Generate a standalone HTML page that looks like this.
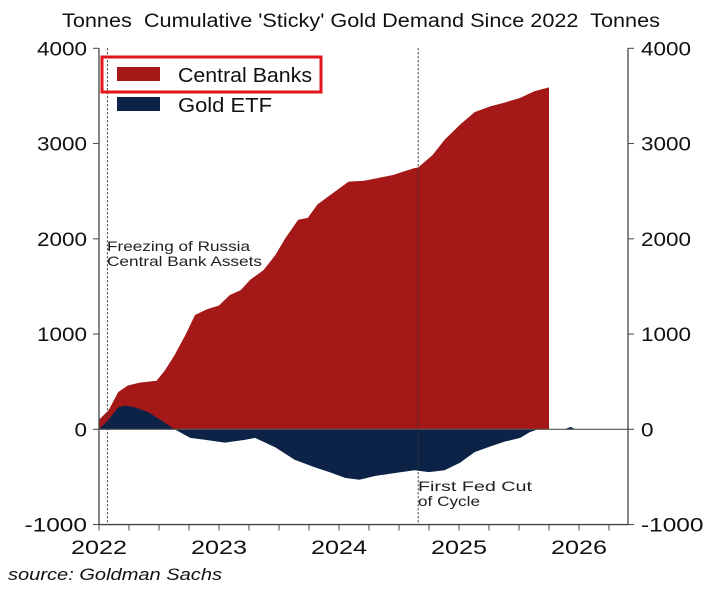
<!DOCTYPE html>
<html><head><meta charset="utf-8"><style>
body{margin:0;background:#fff;width:717px;height:590px;overflow:hidden;font-family:"Liberation Sans",Arial,sans-serif}
svg{display:block}
</style></head><body>
<svg id="chart" width="717" height="590">
<text x="62" y="27" font-size="19" fill="#111" textLength="598" lengthAdjust="spacingAndGlyphs" xml:space="preserve">Tonnes  Cumulative 'Sticky' Gold Demand Since 2022  Tonnes</text>
<g id="plot"></g>
<text x="8" y="580" font-size="17" font-style="italic" fill="#111" textLength="214" lengthAdjust="spacingAndGlyphs">source: Goldman Sachs</text>
</svg>
<script>
const cbDates=[2022.0,2022.08,2022.16,2022.24,2022.34,2022.48,2022.55,2022.63,2022.72,2022.8,2022.9,2023.0,2023.09,2023.18,2023.26,2023.37,2023.47,2023.55,2023.66,2023.74,2023.82,2023.96,2024.08,2024.21,2024.33,2024.45,2024.62,2024.66,2024.78,2024.88,2025.01,2025.13,2025.26,2025.38,2025.51,2025.63,2025.75];
const cbValues=[100,200,390,460,490,510,620,780,990,1200,1260,1300,1410,1460,1570,1670,1830,2000,2200,2220,2360,2490,2600,2610,2640,2670,2740,2750,2880,3040,3200,3330,3390,3430,3480,3550,3590];
const etfDates=[2022.0,2022.08,2022.16,2022.22,2022.3,2022.41,2022.51,2022.63,2022.76,2022.88,2023.05,2023.22,2023.3,2023.47,2023.63,2023.8,2023.92,2024.05,2024.17,2024.3,2024.46,2024.63,2024.75,2024.88,2025.01,2025.13,2025.26,2025.38,2025.51,2025.59,2025.66,2025.75];
const etfValues=[0,100,230,250,230,180,100,0,-90,-110,-140,-110,-90,-190,-320,-400,-450,-510,-530,-490,-460,-430,-450,-430,-350,-240,-180,-130,-90,-30,0,0];
const yTicks=[-1000,0,1000,2000,3000,4000];
const xTicks=[2022,2023,2024,2025,2026];
const events=[{t:2022.07,name:'russia-freeze'},{t:2024.66,name:'first-fed-cut'}];

const X=t=>99+120*(t-2022);
const Y=v=>429.3-0.09525*v;
const NS='http://www.w3.org/2000/svg';
const g=document.getElementById('plot');
function mk(tag,attrs,parent){const e=document.createElementNS(NS,tag);for(const k in attrs)e.setAttribute(k,attrs[k]);(parent||g).appendChild(e);return e;}
function area(d,v){let s='M'+X(d[0])+','+Y(0);d.forEach((t,i)=>s+=' L'+X(t)+','+Y(v[i]));s+=' L'+X(d[d.length-1])+','+Y(0)+' Z';return s;}
const cb=mk('path',{d:area(cbDates,cbValues),fill:'#a51818'});


const etf=mk('path',{d:area(etfDates,etfValues),fill:'#0c2347'});


const blip=mk('path',{d:'M'+X(2025.88)+','+Y(0)+' L'+X(2025.93)+','+Y(25)+' L'+X(2025.97)+','+Y(0)+' Z',fill:'#0c2347'});


const z=mk('line',{x1:99,x2:628,y1:Y(0),y2:Y(0),stroke:'#555','stroke-width':1.2});


events.forEach(ev=>{
 const l=mk('line',{x1:X(ev.t),x2:X(ev.t),y1:Y(4000),y2:Y(-1000),stroke:'#333','stroke-width':1,'stroke-dasharray':'2,2'});
 
 
});
function label(x,y,txt,len,fs,name){const t=mk('text',{x:x,y:y,'font-size':fs,fill:'#222',textLength:len,lengthAdjust:'spacingAndGlyphs'});t.textContent=txt;
 
 return t;}
label(107,251,'Freezing of Russia',143,14,'russia-freeze-label');
label(107,266,'Central Bank Assets',155,14,'russia-freeze-label-2');
label(418,491,'First Fed Cut',114,14,'fed-cut-label');
label(418,506,'of Cycle',62,14,'fed-cut-label-2');
const la=mk('line',{x1:99,x2:99,y1:Y(4000),y2:Y(-1000),stroke:'#444','stroke-width':1.3});


const ra=mk('line',{x1:628,x2:628,y1:Y(4000),y2:Y(-1000),stroke:'#444','stroke-width':1.3});


const ba=mk('line',{x1:99,x2:628,y1:Y(-1000),y2:Y(-1000),stroke:'#444','stroke-width':1.3});


yTicks.forEach(v=>{
 mk('line',{x1:93,x2:99,y1:Y(v),y2:Y(v),stroke:'#444'});
 mk('line',{x1:628,x2:634,y1:Y(v),y2:Y(v),stroke:'#444'});
 const w=String(v).length*12.5;
 const t=mk('text',{x:87-w,y:Y(v)+7,'font-size':19,fill:'#111',textLength:w,lengthAdjust:'spacingAndGlyphs'});t.textContent=v;
 
 
 const t2=mk('text',{x:641,y:Y(v)+7,'font-size':19,fill:'#111',textLength:w,lengthAdjust:'spacingAndGlyphs'});t2.textContent=v;
 
 
});
for(let q=2022;q<=2026.3;q+=0.25){mk('line',{x1:X(q),x2:X(q),y1:Y(-1000),y2:Y(-1000)+6,stroke:'#444'});}
xTicks.forEach(yr=>{
 const t=mk('text',{x:X(yr)-28,y:554,'font-size':19,fill:'#111',textLength:56,lengthAdjust:'spacingAndGlyphs'});t.textContent=yr;
 
 
});
const lg=mk('g',{});


mk('rect',{x:102,y:57,width:219,height:35,fill:'none',stroke:'#e3141b','stroke-width':3},lg);
mk('rect',{x:117,y:67,width:43,height:14,fill:'#a51818'},lg);
const l1=mk('text',{x:178,y:82,'font-size':20,fill:'#111',textLength:134,lengthAdjust:'spacingAndGlyphs'},lg);l1.textContent='Central Banks';


mk('rect',{x:117,y:97,width:43,height:14,fill:'#0c2347'},lg);
const l2=mk('text',{x:178,y:112,'font-size':20,fill:'#111',textLength:94,lengthAdjust:'spacingAndGlyphs'},lg);l2.textContent='Gold ETF';


</script>
</body></html>
